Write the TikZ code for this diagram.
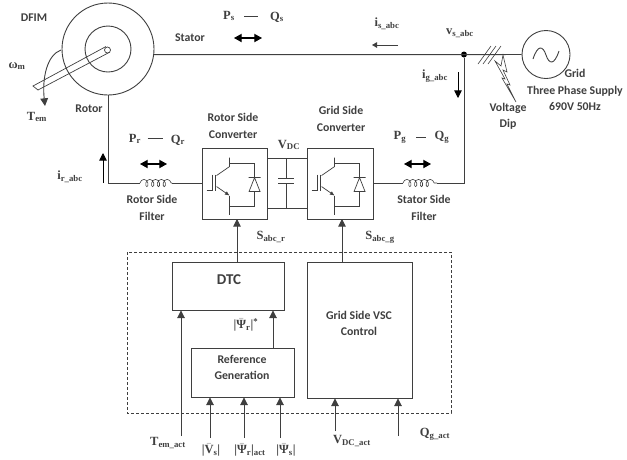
\documentclass[tikz,border=0pt]{standalone}
\usepackage{amsmath,amssymb}
\usepackage{fontspec}
\setmainfont{Carlito}
\newfontfamily\symfont{Liberation Serif}
\usetikzlibrary{arrows.meta,decorations.pathmorphing}
\definecolor{inkgrey}{HTML}{3F3F3F}
\newcommand{\barred}[1]{\ensuremath{\bar{\text{#1}}}}
\tikzset{
	blk/.style={draw=inkgrey, line width=0.9pt, fill=white, align=center},
	lbl/.style={inner sep=0pt, align=center, text=inkgrey, font=\bfseries\fontsize{11.8}{16.5}\selectfont},
	sym/.style={inner sep=0pt, text=inkgrey, font=\symfont\bfseries\fontsize{12.5}{14}\selectfont},
	wire/.style={draw=inkgrey, line width=0.9pt},
	sig/.style={wire, -{Triangle[length=2.7mm,width=2.7mm]}},
	flow/.style={draw=black, line width=1.1pt, {Triangle[length=2.7mm,width=2.9mm]}-{Triangle[length=2.7mm,width=2.9mm]}},
	coilwire/.style={wire, line width=0.6pt, decorate, decoration={coil, aspect=0.7, segment length=5.8pt, amplitude=3.6pt}},
	igbt/.pic={
		\draw[wire, line width=0.7pt] (28,10) -- (28,19) -- (15,28);
		\draw[wire, line width=0.7pt] (5,43) -- (11,43) (11,27) -- (11,43) (13.5,27) -- (13.5,43);
		\draw[wire, line width=0.7pt, -{Latex[length=1.6mm,width=1.4mm]}] (15,39) -- (28,48);
		\draw[wire, line width=0.7pt] (28,48) -- (28,67);
		\draw[wire, line width=0.7pt] (28,16) -- (53,16) -- (53,30) (53,44) -- (53,59) -- (28,59);
		\draw[wire, line width=0.7pt] (47,30) -- (59,30) (53,30) -- (47.5,44) -- (58.5,44) -- cycle;
	},
}
\begin{document}
\begin{tikzpicture}[x=1pt,y=-1pt]
	\useasboundingbox (0,0) rectangle (627,459);
	% machine
	\node[draw=inkgrey, line width=0.9pt, circle, minimum size=92pt, inner sep=0pt] (dfim) at (108,49) {};
	\node[draw=inkgrey, line width=0.9pt, circle, minimum size=46pt, inner sep=0pt] (core) at (108,49) {};
	\draw[wire, line width=0.7pt] (106,46.5) -- (33,86) -- (38,90) -- (110,52);
	\node[draw=inkgrey, line width=0.7pt, fill=white, circle, minimum size=6pt, inner sep=0pt] (shaft) at (107.5,50) {};
	\coordinate (wstart) at (61,50);
	\coordinate (wend) at (45,106);
	\draw[sig] (wstart) .. controls (47,55) and (42,78) .. (wend);
	% grid
	\node[draw=inkgrey, line width=0.9pt, circle, minimum size=48pt, inner sep=0pt] (grid) at (546,54.5) {};
	\draw[wire] (533,59) .. controls (538,44) and (543,46) .. (546,55) .. controls (549,64) and (554,66) .. (559,51);
	\node[circle, fill=black, minimum size=6pt, inner sep=0pt] (pcc) at (464,54.5) {};
	\foreach \x in {-5,0,5} {\draw[wire, line width=0.6pt] (\x+483,64) -- (\x+496,46);}
	\draw[wire, line width=0.6pt] (503,55) -- (501,66) -- (495,61) -- (505,79) -- (502,78) -- (516,102) -- (507,84) -- (510,85) -- (503,70) -- (507,72) -- cycle;
	% converters
	\node[blk, minimum width=65pt, minimum height=71pt] (rsc) at (234.5,183.5) {};
	\node[blk, minimum width=66pt, minimum height=71pt] (gsc) at (340,183.5) {};
	\pic at (rsc.north west) {igbt};
	\pic at (gsc.north west) {igbt};
	\coordinate (dctop) at (286,158);
	\coordinate (dcbot) at (286,208);
	\draw[wire] (rsc.east |- dctop) -- (gsc.west |- dctop) (rsc.east |- dcbot) -- (gsc.west |- dcbot);
	\draw[wire] (dctop) -- (286,178) (278,178) -- (294,178) (278,183) -- (294,183) (286,183) -- (dcbot);
	% main wires
	\coordinate (rcoila) at (140,183);
	\coordinate (rcoilb) at (172,183);
	\coordinate (gcoila) at (403,183);
	\coordinate (gcoilb) at (437,183);
	\coordinate (rotorbend) at (108,183);
	\coordinate (gridbend) at (464,183);
	\draw[wire] (dfim.-7) -- (dfim.-7 -| pcc) -- (grid.west);
	\draw[wire] (dfim.south) -- (rotorbend) -- (rcoila);
	\draw[coilwire] (rcoila) -- (rcoilb);
	\draw[wire] (rcoilb) -- (rsc.west |- rcoilb);
	\draw[wire] (pcc) -- (gridbend) -- (gcoilb);
	\draw[coilwire] (gcoila) -- (gcoilb);
	\draw[wire] (gcoila) -- (gsc.east |- gcoila);
	% control
	\draw[draw=inkgrey, line width=0.9pt, densely dashed] (127,252) rectangle (451,413);
	\node[blk, minimum width=112pt, minimum height=48pt] (dtc) at (228,286) {};
	\node[blk, minimum width=103pt, minimum height=49pt] (refgen) at (242.5,372.5) {};
	\node[blk, minimum width=105pt, minimum height=136pt] (vsc) at (359.5,330) {};
	\draw[sig] (237,262) -- (237,219);
	\draw[sig] (342,262) -- (342,219);
	\foreach \x/\y/\t in {181/436/dtc, 273/348/dtc, 210/438/refgen, 244/438/refgen, 280/438/refgen, 335/431/vsc, 398/436/vsc} {
		\draw[sig] (\x,\y) -- (\x,\y |- \t.south);
	}
	% power flow arrows
	\draw[flow] (140,164) -- (167,164);
	\draw[flow] (404,164) -- (431,164);
	\draw[flow] (234,38) -- (262,38);
	\draw[sig, draw=black] (103,183) -- (103,153);
	\draw[sig, draw=black] (458,72) -- (458,98);
	\draw[wire, -{Triangle[length=1.8mm,width=2mm]}] (398,45) -- (372,45);
	% labels
	\node[lbl] (ldfim) at (34,18) {DFIM};
	\node[lbl] (lstator) at (190,38) {Stator};
	\node[lbl] (lrotor) at (89,109) {Rotor};
	\node[sym] (lw) at (17,66) {ω\textsubscript{m}};
	\node[sym] (lt) at (37,117) {T\textsubscript{em}};
	\node[sym] (lpr) at (135,139) {P\textsubscript{r}};
	\node[sym] (lqr) at (178,140) {Q\textsubscript{r}};
	\node[sym] (lir) at (70,177) {i\textsubscript{r\_abc}};
	\node[sym] (lps) at (229,16) {P\textsubscript{s}};
	\node[sym] (lqs) at (277,17) {Q\textsubscript{s}};
	\node[sym] (lis) at (387,24) {i\textsubscript{s\_abc}};
	\node[sym] (lvs) at (460,33) {v\textsubscript{s\_abc}};
	\node[sym] (lig) at (435,76) {i\textsubscript{g\_abc}};
	\node[sym] (lpg) at (400,137) {P\textsubscript{g}};
	\node[sym] (lqg) at (442,137) {Q\textsubscript{g}};
	\node[sym] (lvdc) at (289,145) {V\textsubscript{DC}};
	\node[sym] (lsr) at (271,237) {S\textsubscript{abc\_r}};
	\node[sym] (lsg) at (380,237) {S\textsubscript{abc\_g}};
	\foreach \x/\y/\h in {155/138/7.5, 421/137/5, 251/16/7} {
		\draw[wire] (\x-\h,\y) -- (\x+\h,\y);
	}
	\node[lbl] (lrsf) at (152,208) {Rotor Side\\Filter};
	\node[lbl] (lgsf) at (424,208) {Stator Side\\Filter};
	\node[lbl] (lrsc) at (233,126) {Rotor Side\\Converter};
	\node[lbl] (lgsc) at (341,119) {Grid Side\\Converter};
	\node[lbl] (ldip) at (508,116.5) {Voltage\\Dip};
	\node[lbl] (lgrid) at (575,90) {Grid\\Three Phase Supply\\690V 50Hz};
	\node[lbl, font=\bfseries\fontsize{15}{16}\selectfont] (ldtc) at (229,280) {DTC};
	\node[lbl] (lref) at (242,367.5) {Reference\\Generation};
	\node[lbl] (lvsc) at (359,323.5) {Grid Side VSC\\Control};
	\node[sym] (lpsi) at (246,325) {|\barred{Ψ}\textsubscript{r}|\textsuperscript{*}};
	\node[sym] (ltem) at (168,443) {T\textsubscript{em\_act}};
	\node[sym] (lvm) at (211,450) {|\barred{V}\textsubscript{s}|};
	\node[sym] (lpra) at (250,450) {|\barred{Ψ}\textsubscript{r}|\textsubscript{act}};
	\node[sym] (lpsm) at (286,450) {|\barred{Ψ}\textsubscript{s}|};
	\node[sym] (lvda) at (352,441) {V\textsubscript{DC\_act}};
	\node[sym] (lqga) at (435,434) {Q\textsubscript{g\_act}};
\end{tikzpicture}
\end{document}
